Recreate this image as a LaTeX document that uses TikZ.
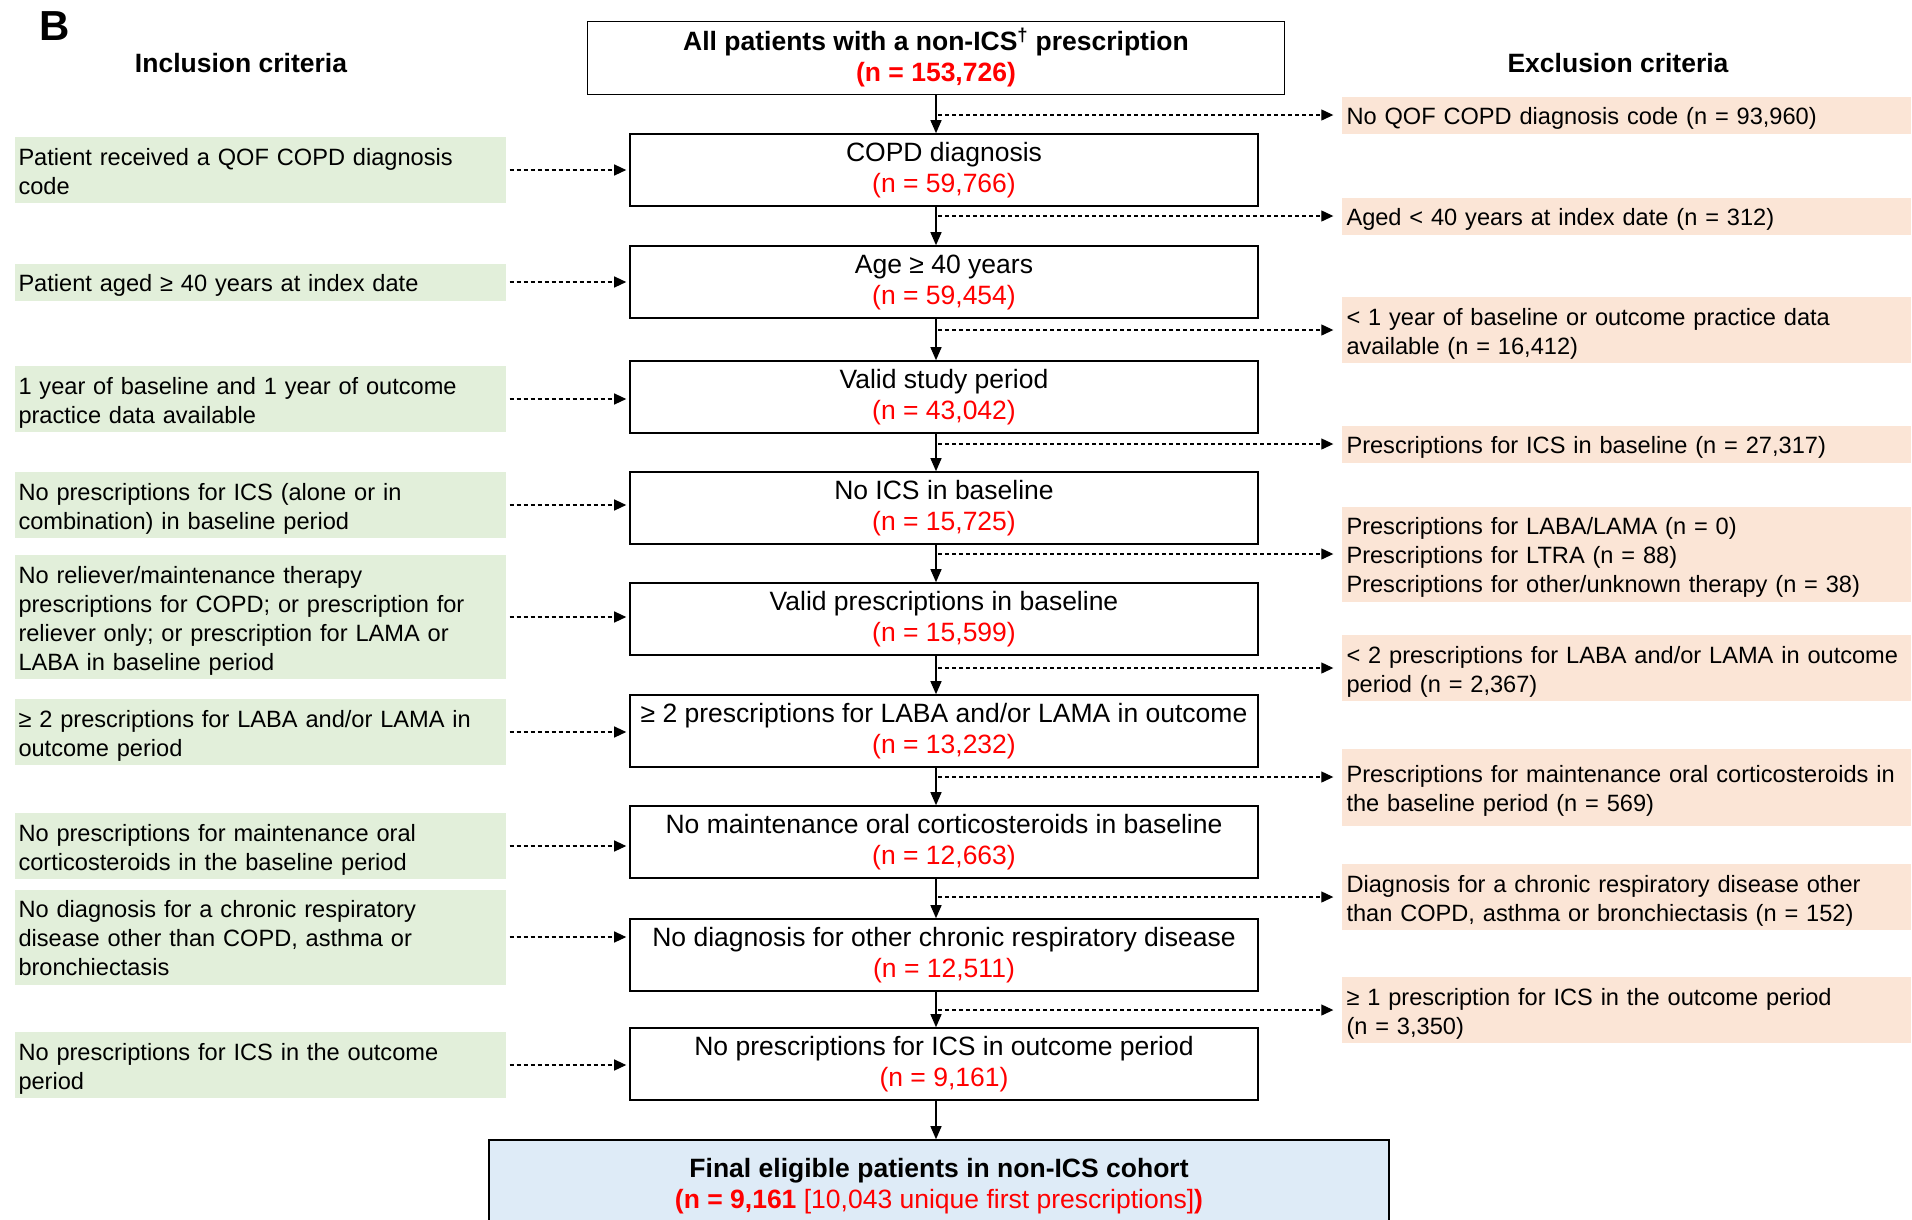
\documentclass[tikz,border=0pt]{standalone}
\usepackage{fontspec}
\setmainfont{Liberation Sans}
\usepackage{xcolor}
\usepackage{tikz}
\usetikzlibrary{arrows.meta,calc,positioning}
\definecolor{inclgreen}{HTML}{E2EFDA}
\definecolor{exclorange}{HTML}{FBE5D6}
\definecolor{finalblue}{HTML}{DEEBF7}
\hyphenpenalty=10000\relax

\begin{document}
\begin{tikzpicture}[x=1pt, y=-1pt,
    stage/.style={draw, line width=1.6pt, minimum width=628pt, minimum height=72pt,
        align=center, font=\fontsize{26.5}{31}\selectfont},
    incl/.style={fill=inclgreen, text width=483pt, inner xsep=4pt, inner ysep=4pt,
        align=left, font=\fontsize{23.6}{29}\selectfont,
        execute at begin node={\rule{0pt}{24pt}},
        execute at end node={\rule[-5pt]{0pt}{5pt}}},
    excl/.style={incl, fill=exclorange, text width=559pt, inner xsep=5pt},
    heading/.style={font=\fontsize{26.5}{31}\selectfont\bfseries},
    flow/.style={-{Triangle[length=13pt,width=11pt]}, line width=1.3pt},
    dashflow/.style={-{Triangle[length=12pt,width=11pt]}, line width=1.2pt,
        dash pattern=on 4pt off 3pt}]
    \clip (0,0) rectangle (1912,1219);

    % Headings
    \node[font=\fontsize{42}{42}\selectfont\bfseries] (panel) at (55,26) {B};
    \node[heading] (inhead) at (241,63) {Inclusion criteria};
    \node[heading] (exhead) at (1618,63) {Exclusion criteria};
    \coordinate (spine) at (936,0);

    % Main flow
    \node[stage, minimum width=697pt, minimum height=73pt] (top) at (936,58)
        {\textbf{All patients with a non-ICS\textsuperscript{†} prescription}\\
         \textcolor{red}{\textbf{(n = 153,726)}}};
    \node[stage] (m1) at (944,170) {COPD diagnosis\\\textcolor{red}{(n = 59,766)}};
    \node[stage] (m2) at (944,282) {Age ≥ 40 years\\\textcolor{red}{(n = 59,454)}};
    \node[stage] (m3) at (944,397) {Valid study period\\\textcolor{red}{(n = 43,042)}};
    \node[stage] (m4) at (944,508) {No ICS in baseline\\\textcolor{red}{(n = 15,725)}};
    \node[stage] (m5) at (944,619) {Valid prescriptions in baseline\\\textcolor{red}{(n = 15,599)}};
    \node[stage] (m6) at (944,731) {≥ 2 prescriptions for LABA and/or LAMA in outcome\\\textcolor{red}{(n = 13,232)}};
    \node[stage] (m7) at (944,842) {No maintenance oral corticosteroids in baseline\\\textcolor{red}{(n = 12,663)}};
    \node[stage] (m8) at (944,955) {No diagnosis for other chronic respiratory disease\\\textcolor{red}{(n = 12,511)}};
    \node[stage] (m9) at (944,1064) {No prescriptions for ICS in outcome period\\\textcolor{red}{(n = 9,161)}};
    \node[stage, fill=finalblue, minimum width=900pt, minimum height=92pt] (final) at (939,1186)
        {\textbf{Final eligible patients in non-ICS cohort}\\
         \textcolor{red}{\textbf{(n = 9,161} [10,043 unique first prescriptions]\textbf{)}}};

    \draw[flow] (top.south -| spine) -- (m1.north -| spine);
    \foreach \a/\b in {m1/m2,m2/m3,m3/m4,m4/m5,m5/m6,m6/m7,m7/m8,m8/m9,m9/final}
        \draw[flow] (\a.south -| spine) -- (\b.north -| spine);

    % Inclusion criteria
    \node[incl] (in1) at (260,170) {Patient received a QOF COPD diagnosis\\code};
    \node[incl] (in2) at (260,282) {Patient aged ≥ 40 years at index date};
    \node[incl] (in3) at (260,399) {1 year of baseline and 1 year of outcome\\practice data available};
    \node[incl] (in4) at (260,505) {No prescriptions for ICS (alone or in\\combination) in baseline period};
    \node[incl] (in5) at (260,617) {No reliever/maintenance therapy\\prescriptions for COPD; or prescription for\\reliever only; or prescription for LAMA or\\LABA in baseline period};
    \node[incl] (in6) at (260,732) {≥ 2 prescriptions for LABA and/or LAMA in\\outcome period};
    \node[incl] (in7) at (260,846) {No prescriptions for maintenance oral\\corticosteroids in the baseline period};
    \node[incl] (in8) at (260,937) {No diagnosis for a chronic respiratory\\disease other than COPD, asthma or\\bronchiectasis};
    \node[incl] (in9) at (260,1065) {No prescriptions for ICS in the outcome\\period};

    \foreach \i in {1,...,9}
        \draw[dashflow, shorten <=4pt, shorten >=3pt] (in\i.east) -- (in\i.east -| m\i.west);

    % Exclusion criteria
    \node[excl] (ex1) at (1626,115) {No QOF COPD diagnosis code (n = 93,960)};
    \node[excl] (ex2) at (1626,216) {Aged < 40 years at index date (n = 312)};
    \node[excl] (ex3) at (1626,330) {< 1 year of baseline or outcome practice data\\available (n = 16,412)};
    \node[excl] (ex4) at (1626,444) {Prescriptions for ICS in baseline (n = 27,317)};
    \node[excl] (ex5) at (1626,554) {Prescriptions for LABA/LAMA (n = 0)\\Prescriptions for LTRA (n = 88)\\Prescriptions for other/unknown therapy (n = 38)};
    \node[excl] (ex6) at (1626,668) {< 2 prescriptions for LABA and/or LAMA in outcome\\period (n = 2,367)};
    \node[excl, minimum height=77pt] (ex7) at (1626,787) {Prescriptions for maintenance oral corticosteroids in\\the baseline period (n = 569)};
    \node[excl] (ex8) at (1626,897) {Diagnosis for a chronic respiratory disease other\\than COPD, asthma or bronchiectasis (n = 152)};
    \node[excl] (ex9) at (1626,1010) {≥ 1 prescription for ICS in the outcome period\\(n = 3,350)};
    \coordinate (ex7in) at ([yshift=10pt]ex7.west);

    \foreach \i in {1,...,6,8,9}
        \draw[dashflow, shorten <=2pt, shorten >=8pt] (spine |- ex\i.west) -- (ex\i.west);
    \draw[dashflow, shorten <=2pt, shorten >=8pt] (spine |- ex7in) -- (ex7in);
\end{tikzpicture}
\end{document}
